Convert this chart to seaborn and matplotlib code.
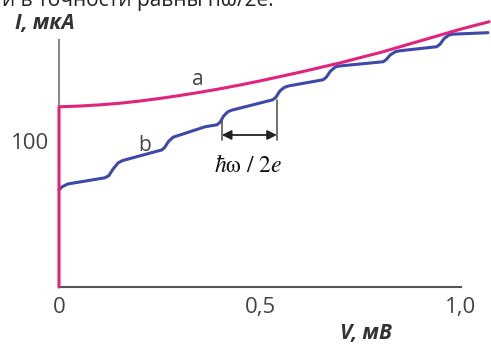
import matplotlib
matplotlib.use('Agg')
import matplotlib.pyplot as plt
import numpy as np
import pandas as pd
import seaborn as sns

# curve a (pink): V in mV, I in uA
v_a = [0.0, 0.0, 0.05, 0.1, 0.15, 0.2, 0.25, 0.3, 0.35, 0.4, 0.45, 0.5,
       0.55, 0.6, 0.65, 0.7, 0.75, 0.8, 0.85, 0.9, 0.95, 1.0, 1.07]
i_a = [0.0, 123.3, 123.8, 124.6, 125.7, 127.2, 129.0, 131.0, 133.2, 135.6,
       138.2, 141.0, 144.0, 147.0, 150.2, 153.4, 157.0, 160.5, 164.5, 168.5,
       172.5, 176.5, 181.5]

# curve b (blue), stepped
v_b = [0.0, 0.0075, 0.022, 0.114, 0.124, 0.134, 0.147, 0.158, 0.256, 0.263,
       0.272, 0.284, 0.363, 0.393, 0.401, 0.409, 0.420, 0.430, 0.532, 0.540,
       0.549, 0.560, 0.570, 0.657, 0.665, 0.675, 0.687, 0.697, 0.806, 0.814,
       0.824, 0.837, 0.847, 0.940, 0.948, 0.958, 0.970, 0.980, 1.067]
i_b = [66.4, 68.5, 70.5, 74.7, 76.2, 80.5, 84.9, 86.5, 93.8, 95.5,
       99.5, 102.5, 109.6, 111.0, 112.8, 116.8, 119.9, 121.0, 128.1, 130.0,
       134.0, 136.5, 137.5, 141.8, 143.6, 147.6, 150.5, 151.2, 154.1, 155.6,
       158.8, 161.0, 161.6, 164.4, 166.2, 170.0, 172.4, 173.0, 174.0]

xticks = [0, 0.5, 1.0]
xtick_labels = ['0', '0,5', '1,0']
yticks = [100]
ytick_labels = ['100']

sns.set_style('white')
plt.rcParams['font.family'] = ['Open Sans', 'DejaVu Sans']
plt.rcParams['mathtext.fontset'] = 'stix'

fig = plt.figure(figsize=(4.91, 3.46), dpi=100)
ax = fig.add_axes([59 / 491, 59 / 346, 402 / 491, 247 / 346])

pink = '#e2237c'
blue = '#3d49a8'
df_a = pd.DataFrame({'V': v_a, 'I': i_a})
df_b = pd.DataFrame({'V': v_b, 'I': i_b})
sns.lineplot(data=df_b, x='V', y='I', ax=ax, color=blue, lw=2.2, sort=False,
             estimator=None, clip_on=False, zorder=3,
             solid_joinstyle='round', solid_capstyle='round')
sns.lineplot(data=df_a, x='V', y='I', ax=ax, color=pink, lw=2.2, sort=False,
             estimator=None, clip_on=False, zorder=4,
             solid_joinstyle='round')

ax.set_xlim(0, 1.0)
ax.set_ylim(0, 169)
ax.set_xlabel('')
ax.set_ylabel('')
for s in ['top', 'right']:
    ax.spines[s].set_visible(False)
ax.spines['bottom'].set_color('#555555')
ax.spines['left'].set_color('#8a8a8a')
ax.spines['bottom'].set_linewidth(1.5)
ax.spines['left'].set_linewidth(1.5)

ax.set_xticks(xticks, xtick_labels)
ax.set_yticks(yticks, ytick_labels)
ax.tick_params(axis='x', direction='in', length=7, width=1.2, color='#555555',
               labelsize=16, labelcolor='#444444', pad=7)
ax.tick_params(axis='y', direction='in', length=7, width=1.2, color='#555555',
               labelsize=16, labelcolor='#444444', pad=7)

# curve labels
ax.text(0.346, 141.8, 'a', fontsize=15, color='#444444', ha='center', va='center')
ax.text(0.214, 97, 'b', fontsize=15, color='#444444', ha='center', va='center')

# period marker
ax.plot([0.405, 0.405], [100.7, 115], color='#666666', lw=1.3)
ax.plot([0.542, 0.542], [100.7, 128], color='#666666', lw=1.3)
ax.annotate('', xy=(0.405, 104), xytext=(0.542, 104),
            arrowprops=dict(arrowstyle='<|-|>', color='#222222', lw=1.3,
                            mutation_scale=14, shrinkA=0, shrinkB=0))
ax.text(0.47, 83, r'$\hbar\mathrm{\omega}\ /\ \mathrm{2}e$', fontsize=17,
        color='#111111', ha='center', va='center')

# axis titles
fig.text(15 / 491, 1 - 24 / 346, 'I, мкА', fontsize=15, fontweight='bold',
         fontstyle='italic', color='#333333', ha='left', va='center')
fig.text(340 / 491, 1 - 333 / 346, 'V, мВ', fontsize=15, fontweight='bold',
         fontstyle='italic', color='#333333', ha='left', va='center')

# clipped line of running text at the top
fig.text(2 / 491, 1 - 6 / 346, 'и в точности равны ħω/2e.', fontsize=15,
         color='#222222', ha='left', va='baseline')

fig.savefig('out.png', dpi=100)
